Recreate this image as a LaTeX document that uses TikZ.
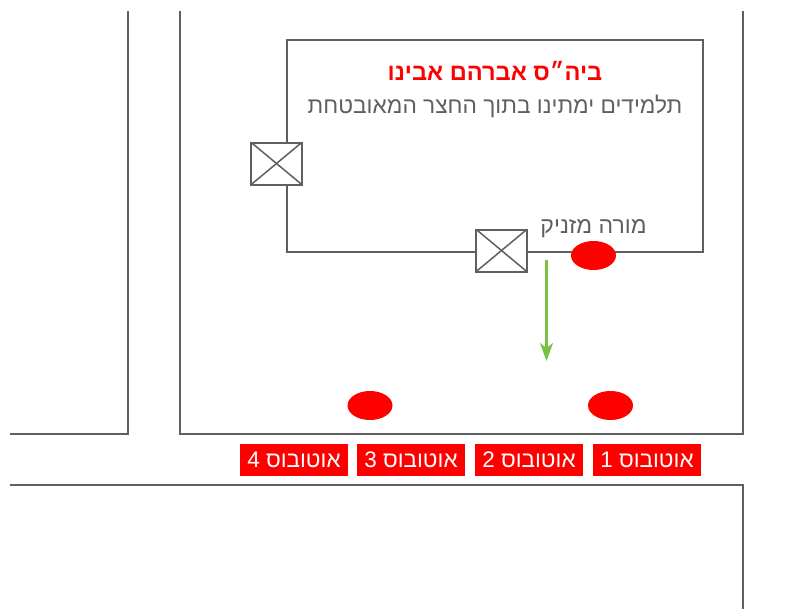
\documentclass[tikz,border=0pt]{standalone}
\usepackage{fontspec}
\usetikzlibrary{arrows.meta,shapes.geometric}
\TeXXeTstate=1
\newfontfamily\hebfont[Script=Hebrew]{Liberation Sans}
\definecolor{wall}{HTML}{5F5F5F}
\definecolor{go}{HTML}{7AC143}
\tikzset{
  wallline/.style={draw=wall,line width=2pt},
  doorbox/.style={draw=wall,line width=2pt,fill=white,minimum width=50.5pt,minimum height=42pt,inner sep=0pt,outer sep=0pt},
  xline/.style={draw=wall,line width=1.5pt},
  stopmark/.style={ellipse,fill=red,minimum width=45pt,minimum height=29pt,inner sep=0pt},
  buslabel/.style={fill=red,text=white,minimum width=108pt,minimum height=32pt,inner sep=0pt,font=\hebfont\fontsize{22.5}{25}\selectfont},
  greytext/.style={text=wall,inner sep=0pt,font=\hebfont\fontsize{22.7}{26}\selectfont},
}
\begin{document}
\begin{tikzpicture}[x=1pt,y=-1pt]
\useasboundingbox (0,0) rectangle (790,610);
% roads
\draw[wallline] (128,11) -- (128,434) -- (10,434);
\draw[wallline] (179.5,11) -- (179.5,434) -- (743,434) -- (743,11);
\draw[wallline] (10,484.5) -- (743,484.5) -- (743,609);
% building
\node[doorbox] (doorw) at (276.5,163.5) {};
\node[doorbox] (doors) at (501.5,250.5) {};
\coordinate (ne) at (703,40);
\coordinate (nw) at (286.5,40);
\coordinate (se) at (703,252);
\coordinate (sw) at (286.5,252);
\draw[wallline] (doorw.north -| nw) -- (nw) -- (ne) -- (se) -- (doors.east |- se);
\draw[wallline] (doors.west |- sw) -- (sw) -- (doorw.south -| sw);
\foreach \d in {doorw,doors}{
  \draw[xline] (\d.north west) -- (\d.south east);
  \draw[xline] (\d.south west) -- (\d.north east);
}
% marks
\node[stopmark] (teacher) at (593.5,255.5) {};
\node[stopmark] (stopa) at (370,405.5) {};
\node[stopmark] (stopb) at (610.5,405.5) {};
% arrow
\coordinate (arrowa) at (546.5,260);
\coordinate (arrowb) at (546.5,361);
\draw[go,line width=2.2pt,-{Stealth[length=18pt,width=13pt,inset=5pt]}] (arrowa) -- (arrowb);
% text
\node[text=red,inner sep=0pt,font=\hebfont\bfseries\fontsize{23.6}{28}\selectfont] (title) at (495,71.5) {\beginR ביה״ס אברהם אבינו\endR};
\node[greytext] (sub) at (495,106.5) {\beginR תלמידים ימתינו בתוך החצר המאובטחת\endR};
\node[greytext,font=\hebfont\fontsize{23}{26}\selectfont] (tlabel) at (593.5,228.5) {\beginR מורה מזניק\endR};
% bus labels
\node[buslabel] (bus1) at (647,460) {\beginR אוטובוס 1\endR};
\node[buslabel] (bus2) at (529,460) {\beginR אוטובוס 2\endR};
\node[buslabel] (bus3) at (411,460) {\beginR אוטובוס 3\endR};
\node[buslabel] (bus4) at (294,460) {\beginR אוטובוס 4\endR};
\end{tikzpicture}
\end{document}
